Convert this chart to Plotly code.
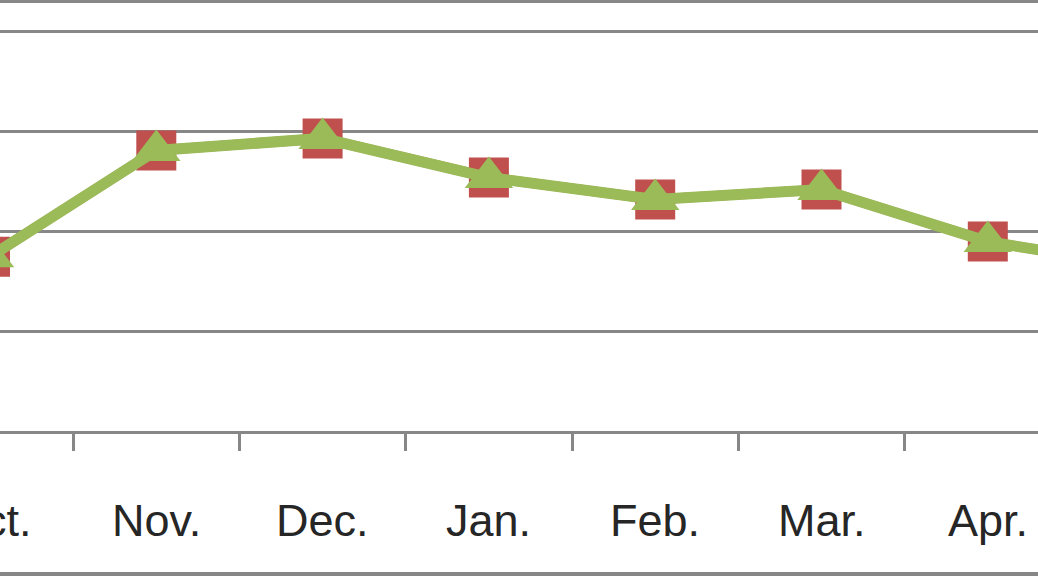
import plotly.graph_objects as go

months = ["Oct.", "Nov.", "Dec.", "Jan.", "Feb.", "Mar.", "Apr.", "May"]
series_red = [17.5, 28.1, 29.3, 25.4, 23.2, 24.2, 19.0, 16.3]
series_green = [17.5, 28.1, 29.3, 25.4, 23.2, 24.2, 19.0, 16.3]
gridvals = [0, 10, 20, 30, 40]

xs = list(range(len(months)))
RED = "#C0504D"
GREEN = "#9BBB59"
GRID = "#878787"

X0 = 10 / 166.3
X1 = 1048 / 166.3

fig = go.Figure()
fig.add_trace(go.Scatter(
    x=xs, y=series_red, mode="lines+markers",
    line=dict(color=RED, width=10),
    marker=dict(symbol="square", size=40, color=RED),
    showlegend=False,
))
fig.add_trace(go.Scatter(
    x=xs, y=series_green, mode="lines+markers",
    line=dict(color=GREEN, width=11),
    marker=dict(symbol="triangle-up", size=42, color=GREEN),
    showlegend=False,
))

# category labels (the last category's label lies outside the visible page)
for i, m in enumerate(months[:-1]):
    fig.add_annotation(x=(i - X0) / (X1 - X0), y=0, xref="paper", yref="paper",
                       text=m, showarrow=False,
                       yanchor="middle", xanchor="center", yshift=-88,
                       font=dict(family="Liberation Sans, Arial", size=45, color="#262626"))

# frame lines at top and bottom
fig.add_shape(type="line", xref="paper", yref="paper", x0=0, x1=1,
              y0=(432 - 1.5) / 432, y1=(432 - 1.5) / 432,
              line=dict(color=GRID, width=3))
fig.add_shape(type="line", xref="paper", yref="paper", x0=0, x1=1,
              y0=-(574 - 432) / 432, y1=-(574 - 432) / 432,
              line=dict(color=GRID, width=4))

fig.update_layout(
    width=1038, height=576,
    margin=dict(l=0, r=0, t=0, b=144),
    paper_bgcolor="white", plot_bgcolor="white",
    xaxis=dict(
        range=[X0, X1],
        tickmode="array", tickvals=xs, ticktext=["" for _ in xs],
        ticks="", showgrid=False, zeroline=False,
        showline=False,
        minor=dict(tick0=0.5, dtick=1, ticks="outside", ticklen=18,
                   tickwidth=3, tickcolor=GRID, showgrid=False),
    ),
    yaxis=dict(
        range=[0, 432 / 10.02],
        tickmode="array", tickvals=gridvals, showticklabels=False,
        showgrid=True, gridcolor=GRID, gridwidth=3,
        zeroline=True, zerolinecolor=GRID, zerolinewidth=3,
        showline=False,
    ),
)

fig.write_html("out.html", config={"displayModeBar": False},
               post_script="document.body.style.margin='0';document.body.style.overflow='hidden';")
